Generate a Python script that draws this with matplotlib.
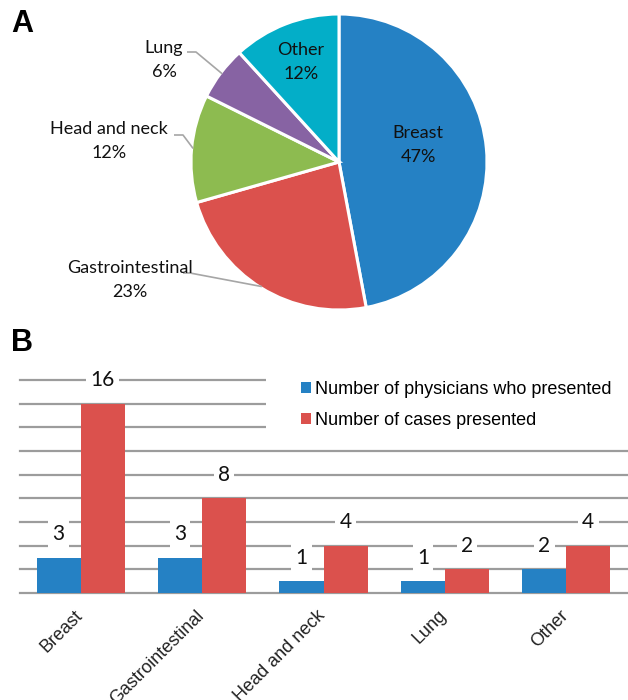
import numpy as np
import matplotlib
matplotlib.use("Agg")
import matplotlib.pyplot as plt
import matplotlib.transforms as mtransforms
from matplotlib.patches import Rectangle, Patch

categories = ["Breast", "Gastrointestinal", "Head and neck", "Lung", "Other"]
physicians = [3, 3, 1, 1, 2]
cases = [16, 8, 4, 2, 4]
pie_pct_labels = ["47%", "23%", "12%", "6%", "12%"]
series_names = ["Number of physicians who presented", "Number of cases presented"]

pie_colors = ["#2581C4", "#DB514D", "#8DBB50", "#8763A3", "#03AEC8"]
blue, red = "#2581C4", "#DB514D"

W, H = 628, 700
fig = plt.figure(figsize=(W / 100, H / 100), dpi=100)

def px_axes(x0, y0, x1, y1):
    return fig.add_axes([x0 / W, 1 - y1 / H, (x1 - x0) / W, (y1 - y0) / H])

pie_font = "Lato"

# ---------------- Panel A: pie ----------------
cx, cy, r = 339, 162, 148
axp = px_axes(cx - r, cy - r, cx + r, cy + r)
wedges, _ = axp.pie(cases, colors=pie_colors, startangle=90, counterclock=False,
                    wedgeprops=dict(edgecolor="white", linewidth=2.2), radius=1)
axp.set_xlim(-1, 1)
axp.set_ylim(-1, 1)
axp.set_aspect("auto")
axp.axis("off")

def pxd(px, py):
    return ((px - cx) / r, (cy - py) / r)

fs_pie = 13
ls_pie = 1.6
# inside labels
for i, (px, py) in [(0, (418, 145)), (4, (301, 62))]:
    x, y = pxd(px, py)
    axp.text(x, y, f"{categories[i]}\n{pie_pct_labels[i]}", ha="center", va="center",
             fontsize=fs_pie, family=pie_font, color="#111111", linespacing=ls_pie)

# outside labels with leader lines
outside = {
    3: ((164, 60), [(187, 52), (196, 52)]),
    2: ((109, 141), [(174, 135), (183, 135)]),
    1: ((130, 280), [(183, 273), (190, 273)]),
}
total = sum(cases)
cum = np.cumsum([0] + cases)
for i, ((px, py), pts) in outside.items():
    x, y = pxd(px, py)
    axp.text(x, y, f"{categories[i]}\n{pie_pct_labels[i]}", ha="center", va="center",
             fontsize=fs_pie, family=pie_font, color="#111111", linespacing=ls_pie)
    mid = (cum[i] + cum[i + 1]) / 2 / total
    ang = np.deg2rad(90 - mid * 360)
    ex, ey = np.cos(ang) * 0.99, np.sin(ang) * 0.99
    xs = [pxd(*p)[0] for p in pts] + [ex]
    ys = [pxd(*p)[1] for p in pts] + [ey]
    axp.plot(xs, ys, color="#A6A6A6", lw=1.2, clip_on=False, solid_capstyle="butt")

fig.text(11 / W, 1 - 24 / H, "A", fontsize=22, fontweight="bold",
         family="Liberation Sans", va="center", ha="left")
fig.text(11 / W, 1 - 343 / H, "B", fontsize=22, fontweight="bold",
         family="Liberation Sans", va="center", ha="left")

# ---------------- Panel B: bars ----------------
axb = px_axes(20, 380, 627, 593)
n = len(categories)
x = np.arange(n)
bw = 0.3625
axb.bar(x - bw / 2, physicians, width=bw, color=blue, zorder=3)
axb.bar(x + bw / 2, cases, width=bw, color=red, zorder=3)
axb.set_xlim(-0.5, n - 0.5)
axb.set_ylim(0, 18)
for gy in range(0, 19, 2):
    axb.axhline(gy, color="#9C9C9C", lw=1.6, zorder=1, clip_on=False)
for s in axb.spines.values():
    s.set_visible(False)
axb.set_yticks([])
axb.set_xticks(x)
axb.set_xticklabels(categories, rotation=45, ha="right", rotation_mode="anchor",
                    fontsize=13, family="Liberation Sans", color="#222222")
axb.tick_params(axis="x", length=0, pad=12)
offset = mtransforms.ScaledTranslation(-7 / 100, 3 / 100, fig.dpi_scale_trans)
for lab in axb.get_xticklabels():
    lab.set_transform(lab.get_transform() + offset)

for xi, v in zip(x - bw / 2, physicians):
    axb.text(xi, v + 2, str(v), ha="center", va="center", fontsize=15, family=pie_font,
             color="#111111", zorder=4,
             bbox=dict(facecolor="white", edgecolor="none", pad=3))
for xi, v in zip(x + bw / 2, cases):
    axb.text(xi, v + 2, str(v), ha="center", va="center", fontsize=15, family=pie_font,
             color="#111111", zorder=4,
             bbox=dict(facecolor="white", edgecolor="none", pad=3))

# white legend area covering gridlines
axb.add_patch(Rectangle((0.405, 0.72), 0.6, 0.35, transform=axb.transAxes,
                        facecolor="white", edgecolor="none", zorder=2, clip_on=False))

handles = [Patch(facecolor=blue), Patch(facecolor=red)]
leg = fig.legend(handles, series_names, loc="upper left",
                 bbox_to_anchor=(301 / W, 1 - 381 / H), frameon=False,
                 prop=dict(family="Liberation Sans", size=13),
                 handlelength=0.55, handleheight=0.55, handletextpad=0.2,
                 labelspacing=0.75, borderpad=0, borderaxespad=0)

fig.savefig("out.png", dpi=100)
